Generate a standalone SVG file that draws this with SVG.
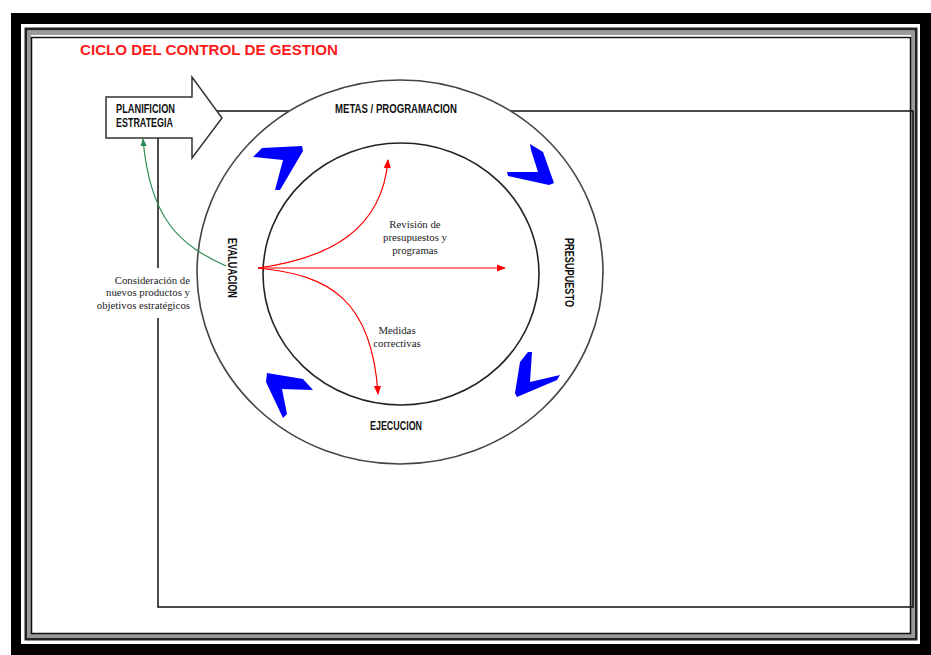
<svg xmlns="http://www.w3.org/2000/svg" width="931" height="655" viewBox="0 0 931 655">
<style>
.lbl{font-family:"Liberation Sans Narrow","Liberation Sans",Arial,sans-serif;font-weight:bold;font-size:12px;fill:#111}
.note{font-family:"Liberation Serif","Times New Roman",serif;font-size:10.8px;fill:#222}
.red{stroke:#ff0000;stroke-width:1.2;fill:none}
.chev{fill:#0000ff}
</style>
<defs>
<marker id="ar" viewBox="0 0 10 10" refX="9" refY="5" markerWidth="9" markerHeight="9" markerUnits="userSpaceOnUse" orient="auto">
<path d="M0,1 L10,5 L0,9 Z" fill="#ff0000"/>
</marker>
<marker id="ag" viewBox="0 0 10 10" refX="9" refY="5" markerWidth="8" markerHeight="8" markerUnits="userSpaceOnUse" orient="auto">
<path d="M0,1 L10,5 L0,9 Z" fill="#2e8b57"/>
</marker>
</defs>
<rect x="0" y="0" width="931" height="655" fill="#fff"/>
<g id="frame">
<rect x="11" y="13" width="920" height="642" fill="#000"/>
<rect x="21" y="24" width="899" height="620" fill="#fff"/>
<rect x="26" y="29" width="890" height="610" fill="none" stroke="#222" stroke-width="3"/>
<rect x="29" y="33" width="884" height="603" fill="none" stroke="#9a9a9a" stroke-width="4"/>
<rect x="31.5" y="37.5" width="879" height="596" fill="#fff" stroke="#111" stroke-width="1.5"/>
</g>
<text id="title" x="80" y="55" font-family="Liberation Sans Narrow,Liberation Sans,Arial,sans-serif" font-weight="bold" font-size="15" fill="#ff1a1a" textLength="258" lengthAdjust="spacingAndGlyphs">CICLO DEL CONTROL DE GESTION</text>
<g id="connectors">
<path d="M205,111 H913 V607 H158 V318 M158,268 V138" fill="none" stroke="#111" stroke-width="1.5"/>
</g>
<g id="ring">
<ellipse cx="400" cy="272" rx="203" ry="192" fill="#fff" stroke="#444" stroke-width="1.6"/>
<ellipse cx="401" cy="274" rx="138" ry="131" fill="#fff" stroke="#222" stroke-width="1.6"/>
</g>
<g id="planificacion">
<polygon points="106,97 192,97 192,77 222,118 192,158 192,138 106,138" fill="#fff" stroke="#333" stroke-width="1.5"/>
<text class="lbl" x="116" y="113" textLength="59" lengthAdjust="spacingAndGlyphs">PLANIFICION</text>
<text class="lbl" x="116" y="127" textLength="57" lengthAdjust="spacingAndGlyphs">ESTRATEGIA</text>
</g>
<g id="metas"><text class="lbl" x="335" y="113" textLength="122" lengthAdjust="spacingAndGlyphs">METAS / PROGRAMACION</text></g>
<g id="presupuesto"><text class="lbl" transform="translate(565,272.5) rotate(90)" x="0" y="0" text-anchor="middle" textLength="69" lengthAdjust="spacingAndGlyphs">PRESUPUESTO</text></g>
<g id="evaluacion"><text class="lbl" transform="translate(228,268) rotate(90)" x="0" y="0" text-anchor="middle" textLength="60" lengthAdjust="spacingAndGlyphs">EVALUACION</text></g>
<g id="ejecucion"><text class="lbl" x="370" y="430" textLength="52" lengthAdjust="spacingAndGlyphs">EJECUCION</text></g>
<g id="chevrons">
<polygon class="chev" points="253,157 262,148 302,146 303,151 280,190 275,190 283,160"/>
<polygon class="chev" points="530,144 543,152 554,183 549,185 508,176 507,172 538,172 531,150"/>
<polygon class="chev" points="267,373 303,379 313,390 282,389 287,414 283,418 266,382"/>
<polygon class="chev" points="528,352 532,352 530,382 560,375 557,380 517,397 515,393 520,362"/>
</g>
<g id="arrows">
<path class="red" d="M258,268 H505" marker-end="url(#ar)"/>
<path class="red" d="M258,268 C330,258 382,230 388,160" marker-end="url(#ar)"/>
<path class="red" d="M258,268 C330,275 372,300 378,394" marker-end="url(#ar)"/>
<path d="M226,266 C180,245 150,220 143,139" fill="none" stroke="#2e8b57" stroke-width="1.2" marker-end="url(#ag)"/>
</g>
<g id="notes">
<text class="note" text-anchor="middle"><tspan x="415" y="228">Revisión de</tspan><tspan x="415" y="241">presupuestos y</tspan><tspan x="415" y="254">programas</tspan></text>
<text class="note" text-anchor="middle"><tspan x="397" y="334">Medidas</tspan><tspan x="397" y="347">correctivas</tspan></text>
<text class="note" text-anchor="end"><tspan x="190" y="284">Consideración de</tspan><tspan x="190" y="296">nuevos productos y</tspan><tspan x="190" y="309">objetivos estratégicos</tspan></text>
</g>
</svg>
